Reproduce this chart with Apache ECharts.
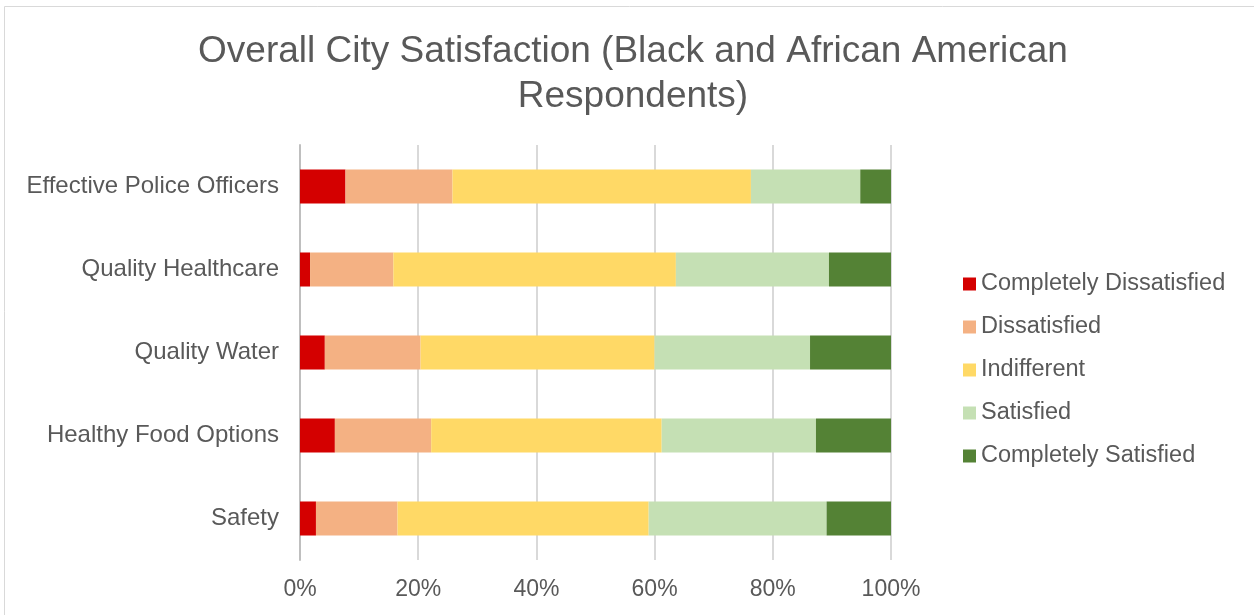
<!DOCTYPE html>
<html>
<head>
<meta charset="utf-8">
<script src="https://cdn.jsdelivr.net/npm/echarts@6/dist/echarts.min.js"></script>
<style>
  html, body { margin: 0; padding: 0; background: #fff; }
  #chart { width: 1254px; height: 615px; }
</style>
</head>
<body>
<div id="chart"></div>
<script>
// survey items, top to bottom
const categories = ['Effective Police Officers', 'Quality Healthcare', 'Quality Water', 'Healthy Food Options', 'Safety'];

// percent of respondents per answer, same order as categories
const completelyDissatisfied = [7.7, 1.7, 4.2, 5.9, 2.7];
const dissatisfied = [18.1, 14.1, 16.2, 16.3, 13.8];
const indifferent = [50.5, 47.8, 39.6, 39.0, 42.5];
const satisfied = [18.5, 25.9, 26.3, 26.1, 30.1];
const completelySatisfied = [5.2, 10.5, 13.7, 12.7, 10.9];

const seriesNames = ['Completely Dissatisfied', 'Dissatisfied', 'Indifferent', 'Satisfied', 'Completely Satisfied'];
const seriesData = [completelyDissatisfied, dissatisfied, indifferent, satisfied, completelySatisfied];
const colors = ['#d40000', '#f4b183', '#ffd966', '#c5e0b4', '#548235'];

const font = 'Liberation Sans, Arial, sans-serif';
const textColor = '#595959';

const chart = echarts.init(document.getElementById('chart'));

const option = {
  animation: false,
  textStyle: { fontFamily: font },
  color: colors,
  title: {
    text: 'Overall City Satisfaction (Black and African American\nRespondents)',
    left: 628,
    textAlign: 'center',
    top: 24,
    textStyle: { fontFamily: font, fontSize: 37, fontWeight: 'normal', color: textColor, lineHeight: 45 }
  },
  graphic: [{
    type: 'rect',
    shape: { x: 4.5, y: 6.5, width: 1280, height: 640 },
    style: { fill: 'none', stroke: '#d9d9d9', lineWidth: 1 },
    silent: true
  }],
  legend: {
    orient: 'vertical',
    left: 963,
    top: 272,
    padding: 0,
    itemWidth: 13,
    itemHeight: 13,
    itemGap: 19,
    icon: 'rect',
    textStyle: { fontFamily: font, fontSize: 23.5, color: textColor },
    data: seriesNames
  },
  grid: { left: 300, right: 363, top: 145, bottom: 55 },
  xAxis: {
    type: 'value',
    min: 0,
    max: 100,
    interval: 20,
    axisLabel: { formatter: '{value}%', fontSize: 23, color: textColor, margin: 18, fontFamily: font },
    axisLine: { show: false },
    axisTick: { show: false },
    splitLine: { lineStyle: { color: '#d9d9d9', width: 2 } }
  },
  yAxis: {
    type: 'category',
    inverse: true,
    data: categories,
    axisLabel: { fontSize: 24, color: textColor, margin: 21, fontFamily: font },
    axisLine: { lineStyle: { color: '#bfbfbf', width: 2 } },
    axisTick: { show: false }
  },
  series: seriesNames.map((name, i) => ({
    name: name,
    type: 'bar',
    stack: 'total',
    barWidth: '41%',
    data: seriesData[i],
    itemStyle: { color: colors[i] }
  }))
};

chart.setOption(option);
</script>
</body>
</html>
